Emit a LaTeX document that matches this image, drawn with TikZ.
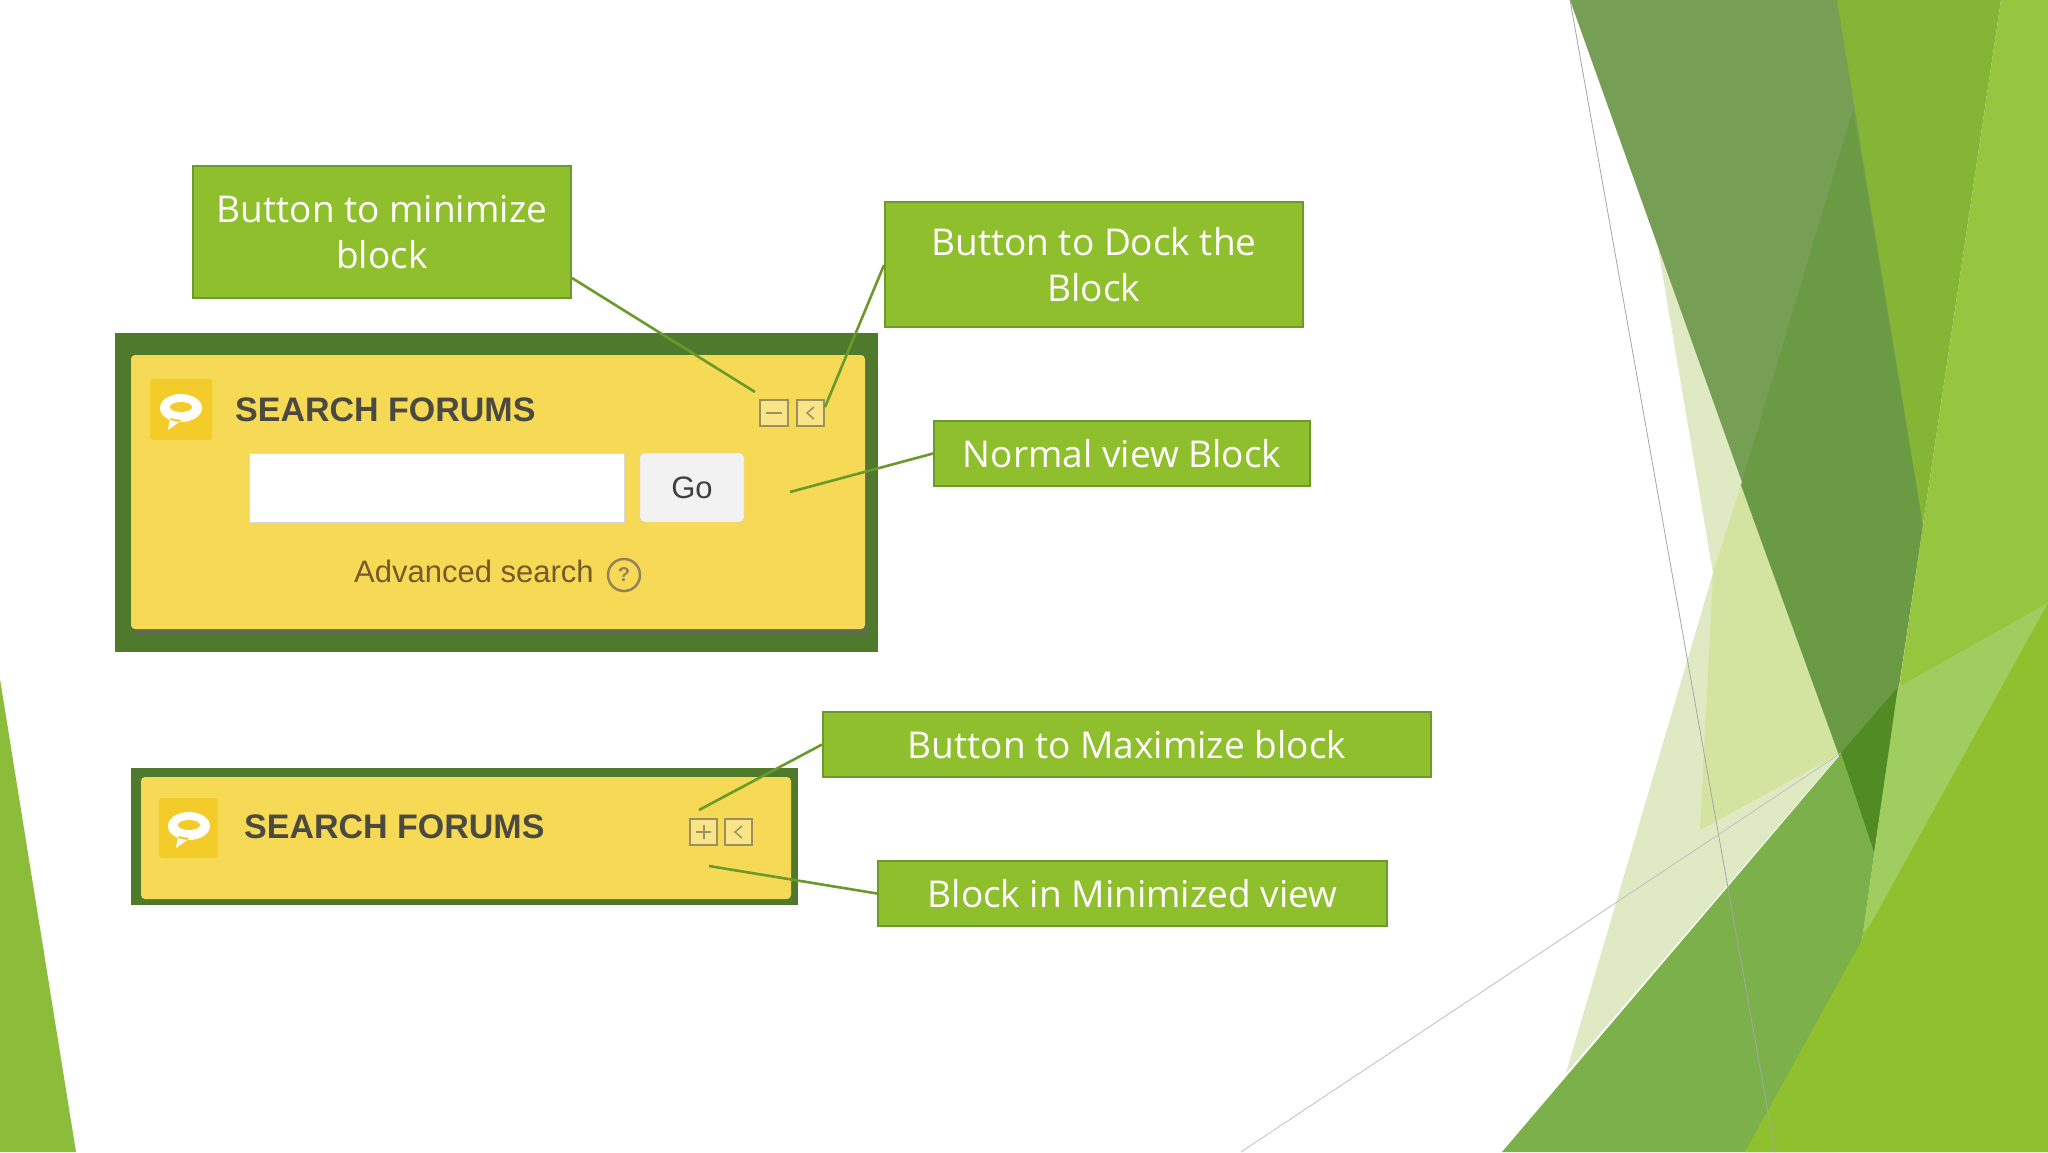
\documentclass[tikz,border=0pt]{standalone}
\usepackage{fontspec}
\setmainfont{Open Sans}
\newfontfamily\arialf{Liberation Sans}
\begin{document}
\begin{tikzpicture}[x=1pt,y=-1pt,
  lbl/.style={draw=lblb,line width=2pt,fill=lblg,text=white,inner sep=0pt,align=center,font=\fontsize{37}{46}\selectfont},
  conn/.style={draw=lblb,line width=2.6pt},
  frame/.style={fill=frg},
  ybox/.style={fill=yel,rounded corners=4pt},
  hdr/.style={font=\arialf\bfseries\fontsize{34}{36}\selectfont,text=hdrc,anchor=west,inner sep=0pt},
  ico/.style={fill=icy,rounded corners=3pt},
  smallbtn/.style={draw=btnc,line width=1.5pt,fill=yel!70!white}]
\definecolor{lblg}{HTML}{8FBF2C}
\definecolor{lblb}{HTML}{6A9A2A}
\definecolor{frg}{HTML}{4F7A2C}
\definecolor{yel}{HTML}{F6DA55}
\definecolor{icy}{HTML}{F3CC2A}
\definecolor{hdrc}{HTML}{4A4A40}
\definecolor{btnc}{HTML}{9A9060}
\useasboundingbox (0,0) rectangle (2048,1152);
\fill[white] (0,0) rectangle (2048,1152);
% background shapes
\fill[color={rgb,255:red,223;green,234;blue,196}] (1657,242) -- (1841,753) -- (1566,1073) -- (1713,573) -- cycle;
\fill[color={rgb,255:red,210;green,228;blue,160}] (1741,485) -- (1841,753) -- (1700,830) -- (1713,573) -- cycle;
\fill[color={rgb,255:red,118;green,158;blue,84}] (1570,0) -- (1855,0) -- (1923,525) -- (1874,852) -- cycle;
\fill[color={rgb,255:red,106;green,154;blue,67}] (1853,110) -- (1923,525) -- (1874,852) -- (1741,485) -- cycle;
\fill[color={rgb,255:red,132;green,181;blue,52}] (1837,0) -- (2001,0) -- (1923,525) -- cycle;
\fill[color={rgb,255:red,150;green,197;blue,64}] (2001,0) -- (2048,0) -- (2048,1152) -- (1835,1152) -- (1863,933) -- (1923,525) -- cycle;
\fill[color={rgb,255:red,123;green,176;blue,75}] (1502,1152) -- (1898,687) -- (1863,933) -- (1835,1152) -- cycle;
\fill[color={rgb,255:red,80;green,140;blue,35}] (1841,753) -- (1898,687) -- (1874,852) -- cycle;
\fill[color={rgb,255:red,160;green,205;blue,95}] (1863,933) -- (1898,687) -- (2048,603) -- (2048,700) -- cycle;
\fill[color={rgb,255:red,145;green,192;blue,47}] (1745,1152) -- (2048,603) -- (2048,1152) -- cycle;
\fill[color={rgb,255:red,140;green,189;blue,58}] (0,679) -- (76,1152) -- (0,1152) -- cycle;
\draw[gray!70,line width=0.8pt] (1570,0) -- (1775,1152);
\draw[gray!50,line width=0.8pt] (1241,1152) -- (1841,753);
% top block
\fill[frame] (115,333) rectangle (878,652);
\fill[black!60,opacity=0.5] (133,360) rectangle (867,636);
\fill[ybox] (131,355) rectangle (865,629);
\fill[ico] (150,379) rectangle (212,440);
\fill[white] (181,408) ellipse (21 and 14) (170,418) -- (168,430) -- (182,420) -- cycle;
\fill[icy] (181,407) ellipse (11 and 5);
\node[hdr] (h1) at (235,410) {SEARCH FORUMS};
\draw[smallbtn] (760,400) rectangle (788,426);
\draw[btnc,line width=2pt] (766,413) -- (782,413);
\draw[smallbtn] (797,400) rectangle (824,426);
\draw[btnc,line width=1.5pt] (814,407) -- (807,413) -- (814,419);
\fill[white,draw=black!15] (249,453) rectangle (624,522);
\node[draw=black!20,fill=black!5,rounded corners=4pt,minimum width=104pt,minimum height=69pt,font=\arialf\fontsize{31}{36}\selectfont,text=black!75] (go) at (692,487.5) {Go};
\node[font=\arialf\fontsize{31}{34}\selectfont,text={rgb,255:red,120;green,90;blue,40},inner sep=0pt] (adv) at (474,571) {Advanced search};
\node[circle,draw={rgb,255:red,150;green,130;blue,90},line width=2.5pt,minimum size=32pt,inner sep=0pt,font=\arialf\bfseries\fontsize{20}{22}\selectfont,text={rgb,255:red,150;green,130;blue,90}] (hlp) at (624,575) {?};
% bottom block
\fill[frame] (131,768) rectangle (798,905);
\fill[ybox] (141,777) rectangle (791,899);
\fill[ico] (159,798) rectangle (218,858);
\fill[white] (189,826) ellipse (21 and 14) (178,836) -- (176,848) -- (190,838) -- cycle;
\fill[icy] (189,825) ellipse (11 and 5);
\node[hdr] (h2) at (244,827) {SEARCH FORUMS};
\draw[smallbtn] (690,819) rectangle (717,845);
\draw[btnc,line width=2pt] (696,832) -- (711,832) (703.5,825) -- (703.5,839);
\draw[smallbtn] (725,819) rectangle (752,845);
\draw[btnc,line width=1.5pt] (742,826) -- (735,832) -- (742,838);
% labels
\node[lbl,minimum width=378pt,minimum height=132pt] (l1) at (382,232) {Button to minimize\\block};
\node[lbl,minimum width=418pt,minimum height=125pt] (l2) at (1094,264.5) {Button to Dock the\\Block};
\node[lbl,minimum width=376pt,minimum height=65pt] (l3) at (1122,453.5) {Normal view Block};
\node[lbl,minimum width=608pt,minimum height=65pt] (l4) at (1127,744.5) {Button to Maximize block};
\node[lbl,minimum width=509pt,minimum height=65pt] (l5) at (1132.5,893.5) {Block in Minimized view};
\coordinate (c1) at (755,392);
\coordinate (c2) at (825,407);
\coordinate (c3) at (790,492);
\coordinate (c4) at (699,810);
\coordinate (c5) at (709,866);
\draw[conn] (l1.east |- 0,278) -- (c1);
\draw[conn] (l2.west |- 0,265) -- (c2);
\draw[conn] (l3.west) -- (c3);
\draw[conn] (l4.west) -- (c4);
\draw[conn] (l5.west) -- (c5);
\end{tikzpicture}
\end{document}
